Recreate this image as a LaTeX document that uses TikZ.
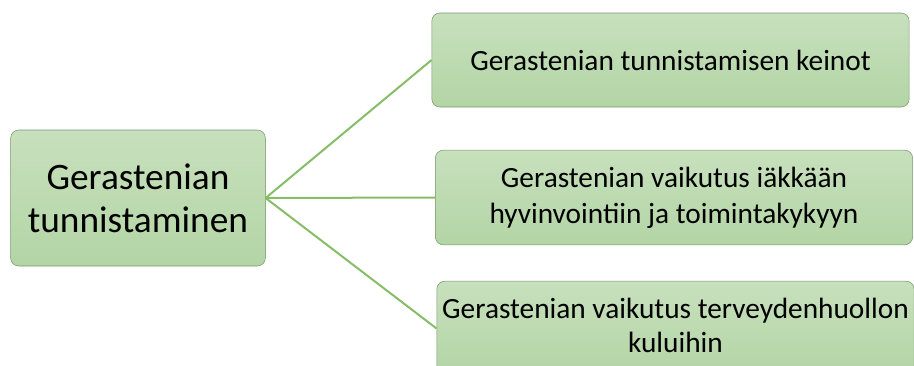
\documentclass[tikz,border=0pt]{standalone}
\usepackage{fontspec}
\setmainfont{Carlito}
\usetikzlibrary{positioning}
\definecolor{boxtop}{HTML}{C7E0BD}
\definecolor{boxbottom}{HTML}{B3D5A5}
\definecolor{boxedge}{HTML}{7A9570}
\definecolor{branch}{HTML}{86BD66}

\begin{document}
\begin{tikzpicture}[x=0.75pt, y=-0.75pt,
    topic/.style={draw=boxedge, rounded corners=6pt, top color=boxtop, bottom color=boxbottom, align=center, inner sep=0pt},
    branchline/.style={draw=branch, line width=1.5pt}]
    \useasboundingbox (0,0) rectangle (914,365);
    % Main topic
    \node[topic, minimum width=191pt, minimum height=102pt, font=\fontsize{28}{32}\selectfont] (main) at (138,198) {Gerastenian\\tunnistaminen};
    
    % Subtopics
    \node[topic, minimum width=358pt, minimum height=70.5pt, font=\fontsize{22}{27}\selectfont] (keinot) at (670.5,60) {Gerastenian tunnistamisen keinot};
    \node[topic, minimum width=358pt, minimum height=71pt, font=\fontsize{22}{27}\selectfont] (toiminta) at (674,197.5) {Gerastenian vaikutus iäkkään\\hyvinvointiin ja toimintakykyyn};
    \node[topic, minimum width=358pt, minimum height=71pt, font=\fontsize{22}{26}\selectfont] (kulut) at (675.5,328.5) {\raisebox{6pt}{\begin{tabular}{@{}c@{}}Gerastenian vaikutus terveydenhuollon\\kuluihin\end{tabular}}};
    
    % Branches
    \draw[branchline] (main.east) -- (keinot.west);
    \draw[branchline] (main.east) -- (toiminta.west);
    \draw[branchline] (main.east) -- (kulut.west);
\end{tikzpicture}
\end{document}
